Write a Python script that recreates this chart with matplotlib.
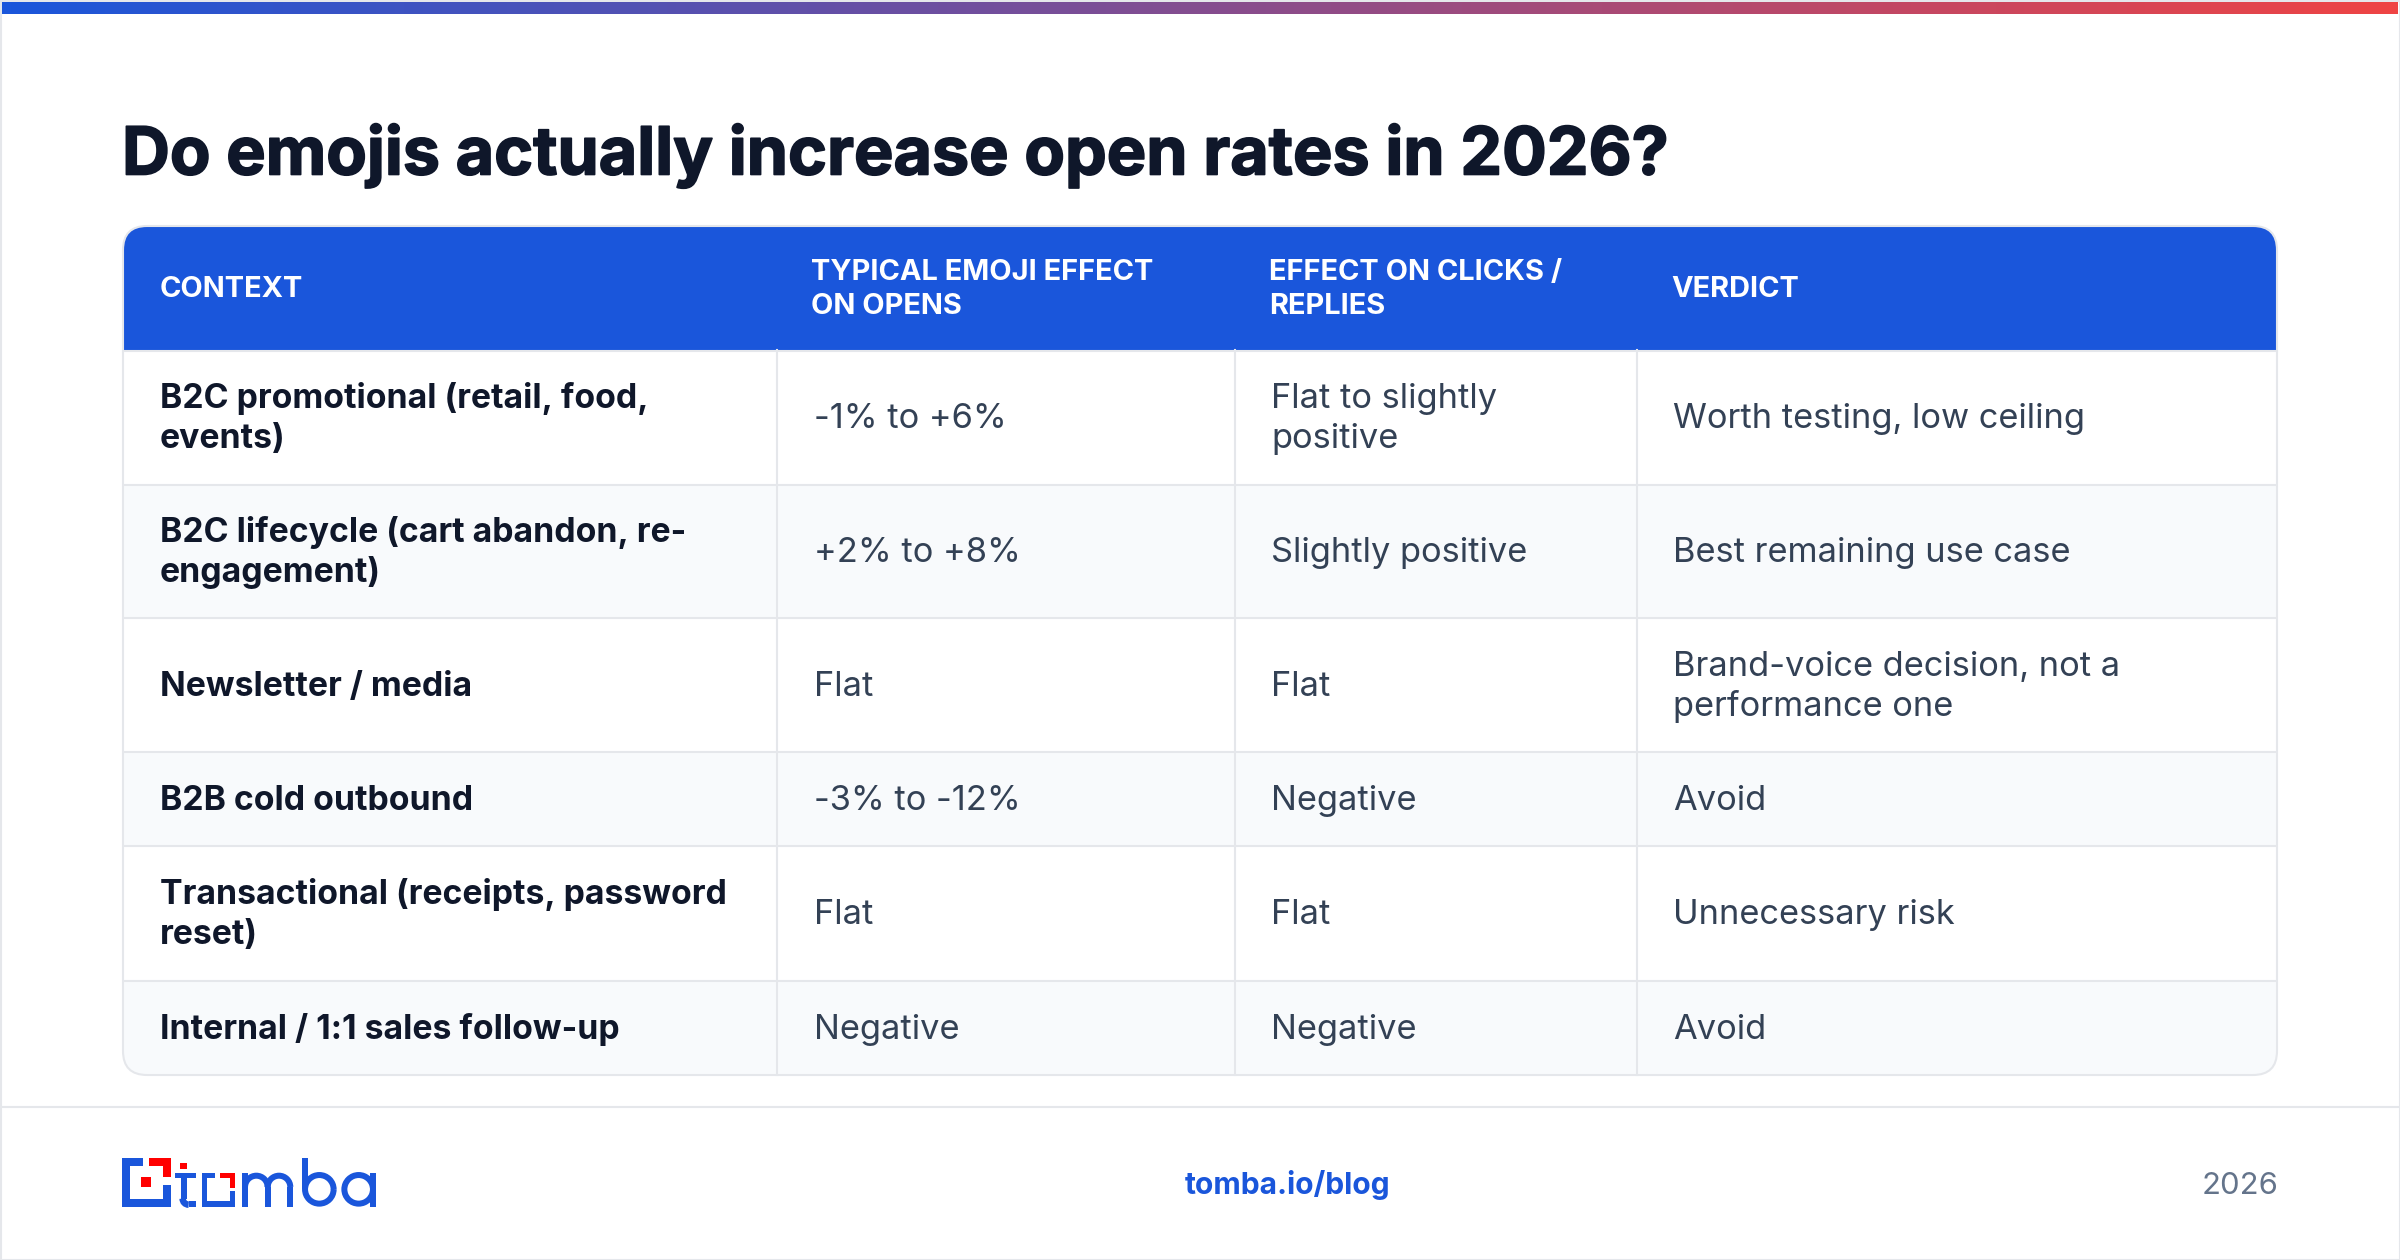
#!/usr/bin/env python3
import numpy as np
import matplotlib
matplotlib.use("Agg")
import matplotlib.pyplot as plt
import matplotlib.patheffects as pe
from matplotlib.patches import Rectangle, FancyBboxPatch, Arc

# table content
TITLE = "Do emojis actually increase open rates in 2026?"
headers = ["CONTEXT", "TYPICAL EMOJI EFFECT\nON OPENS", "EFFECT ON CLICKS /\nREPLIES", "VERDICT"]
contexts = [
    "B2C promotional (retail, food,\nevents)",
    "B2C lifecycle (cart abandon, re-\nengagement)",
    "Newsletter / media",
    "B2B cold outbound",
    "Transactional (receipts, password\nreset)",
    "Internal / 1:1 sales follow-up",
]
opens = ["-1% to +6%", "+2% to +8%", "Flat", "-3% to -12%", "Flat", "Negative"]
clicks = ["Flat to slightly\npositive", "Slightly positive", "Flat", "Negative", "Flat", "Negative"]
verdicts = [
    "Worth testing, low ceiling",
    "Best remaining use case",
    "Brand-voice decision, not a\nperformance one",
    "Avoid",
    "Unnecessary risk",
    "Avoid",
]
FOOT_LINK = "tomba.io/blog"
FOOT_YEAR = "2026"

BLUE = "#1a56db"
RED = "#ef4444"
LOGO_RED = "#ff0000"
BORDER = "#e5e7eb"
ALT = "#f8fafc"
DARK = "#0f172a"
BODY = "#334155"
GREY = "#64748b"

# layout in pixels
T_L, T_R, T_TOP, T_BOT = 123, 2277, 226, 1075
HEAD_BOT = 350
ROW_EDGES = [350, 485, 618, 752, 846, 981, 1075]
COL_EDGES = [777, 1235, 1637]
HEAD_X = [160, 811, 1269, 1671]
BODY_X = [160, 814, 1271, 1673]
FONT = "Inter"


def px(v):
    # pixel size to points at dpi 100
    return v * 0.72


def draw_lines(ax, x, yc, text, size, step, **kw):
    lines = text.split("\n")
    y0 = yc - step * (len(lines) - 1) / 2
    for i, line in enumerate(lines):
        ax.text(x, y0 + i * step + size * 0.36 - 1.5, line, fontsize=px(size), va="baseline",
                ha="left", family=FONT, **kw)


def box(ax, x0, y0, x1, y1, color):
    ax.add_patch(Rectangle((x0, y0), x1 - x0, y1 - y0, fc=color, ec="none", zorder=6))


def stroke_arc(ax, cx, cy, r, t1, t2, lw=6, color=BLUE):
    ax.add_patch(Arc((cx, cy), 2 * r, 2 * r, theta1=t1, theta2=t2, ec=color, lw=px(lw), zorder=6))


def draw_logo(ax):
    zx = lambda v: 80 + v / 3
    zy = lambda v: 1120 + v / 3
    zbox = lambda a, b, c, d, col=BLUE: box(ax, zx(a), zy(b), zx(c), zy(d), col)
    # icon
    zbox(126, 114, 190, 138)
    zbox(126, 114, 150, 260)
    zbox(126, 236, 272, 260)
    zbox(248, 195, 272, 260)
    zbox(206, 114, 272, 138, LOGO_RED)
    zbox(248, 114, 272, 172, LOGO_RED)
    zbox(184, 172, 214, 200, LOGO_RED)
    # t
    zbox(301, 129, 320, 148, LOGO_RED)
    zbox(285, 158, 348, 174)
    zbox(302, 158, 320, 236)
    stroke_arc(ax, zx(326), zy(236), 6, 90, 180, lw=6.5)
    zbox(326, 244, 348, 260)
    # o
    zbox(366, 158, 404, 174)
    zbox(366, 158, 382, 260)
    zbox(366, 244, 466, 260)
    zbox(450, 212, 466, 260)
    zbox(420, 158, 466, 174, LOGO_RED)
    zbox(450, 158, 466, 204, LOGO_RED)
    # m
    zbox(486, 158, 504, 260)
    zbox(554, 201, 572, 260)
    zbox(622, 201, 640, 260)
    stroke_arc(ax, zx(529), zy(201), 11.3, 180, 360)
    stroke_arc(ax, zx(597), zy(201), 11.3, 180, 360)
    # b
    zbox(666, 114, 684, 208)
    stroke_arc(ax, zx(718), zy(208), 14.3, 0, 360)
    # a
    stroke_arc(ax, zx(836), zy(208), 14.3, 0, 360)
    zbox(870, 158, 888, 260)


fig = plt.figure(figsize=(24, 12.6), dpi=100, facecolor="white")
ax = fig.add_axes([0, 0, 1, 1])
ax.set_xlim(0, 2400)
ax.set_ylim(1260, 0)
ax.axis("off")

# page frame and top gradient bar
ax.add_patch(Rectangle((0.5, 0.5), 2399, 1259, fc="none", ec=BORDER, lw=1.5))
grad = np.linspace(0, 1, 512).reshape(1, -1)
cmap = matplotlib.colors.LinearSegmentedColormap.from_list("bar", [BLUE, RED])
ax.imshow(grad, cmap=cmap, extent=(2, 2398, 14, 2), aspect="auto", zorder=2)
ax.set_xlim(0, 2400)
ax.set_ylim(1260, 0)

ax.text(122, 156, TITLE, fontsize=px(66.3), fontweight="bold", color=DARK, family=FONT,
        va="center", ha="left", path_effects=[pe.withStroke(linewidth=1.2, foreground=DARK)])

# table
clip = FancyBboxPatch((T_L, T_TOP), T_R - T_L, T_BOT - T_TOP, boxstyle="round,pad=0,rounding_size=24",
                      fc="white", ec="none", transform=ax.transData)
ax.add_patch(clip)
head = Rectangle((T_L, T_TOP), T_R - T_L, HEAD_BOT - T_TOP, fc=BLUE, ec="none", zorder=2)
ax.add_patch(head)
head.set_clip_path(clip)
for i in range(len(contexts)):
    y0, y1 = ROW_EDGES[i], ROW_EDGES[i + 1]
    if i % 2 == 1:
        r = Rectangle((T_L, y0), T_R - T_L, y1 - y0, fc=ALT, ec="none", zorder=2)
        ax.add_patch(r)
        r.set_clip_path(clip)
    if i < len(contexts) - 1:
        ax.plot([T_L, T_R], [y1, y1], color=BORDER, lw=1.5, zorder=3, solid_capstyle="butt")
    yc = (y0 + y1) / 2
    draw_lines(ax, BODY_X[0], yc, contexts[i], 33.8, 40, color=DARK, fontweight="bold", zorder=5)
    for x, col in zip(BODY_X[1:], [opens, clicks, verdicts]):
        draw_lines(ax, x, yc, col[i], 34.4, 40, color=BODY, zorder=5)
ax.plot([T_L, T_R], [HEAD_BOT + 1, HEAD_BOT + 1], color=BORDER, lw=1.5, zorder=3)
for x in COL_EDGES:
    ax.plot([x, x], [HEAD_BOT, T_BOT], color=BORDER, lw=1.5, zorder=3)
outline = FancyBboxPatch((T_L, T_TOP), T_R - T_L, T_BOT - T_TOP, boxstyle="round,pad=0,rounding_size=24",
                         fc="none", ec=BORDER, lw=1.5, zorder=4)
ax.add_patch(outline)
for x, h in zip(HEAD_X, headers):
    draw_lines(ax, x, (T_TOP + HEAD_BOT) / 2, h, 29, 34, color="white", fontweight="bold", zorder=5)

# footer
ax.plot([0, 2400], [1107, 1107], color=BORDER, lw=1.5)
draw_logo(ax)
ax.text(1288, 1185.5, FOOT_LINK, fontsize=px(30), fontweight="bold", color=BLUE, family=FONT,
        va="center", ha="center")
ax.text(2278, 1186.5, FOOT_YEAR, fontsize=px(31), color=GREY, family=FONT, va="center", ha="right")

fig.savefig("out.png", dpi=100)
